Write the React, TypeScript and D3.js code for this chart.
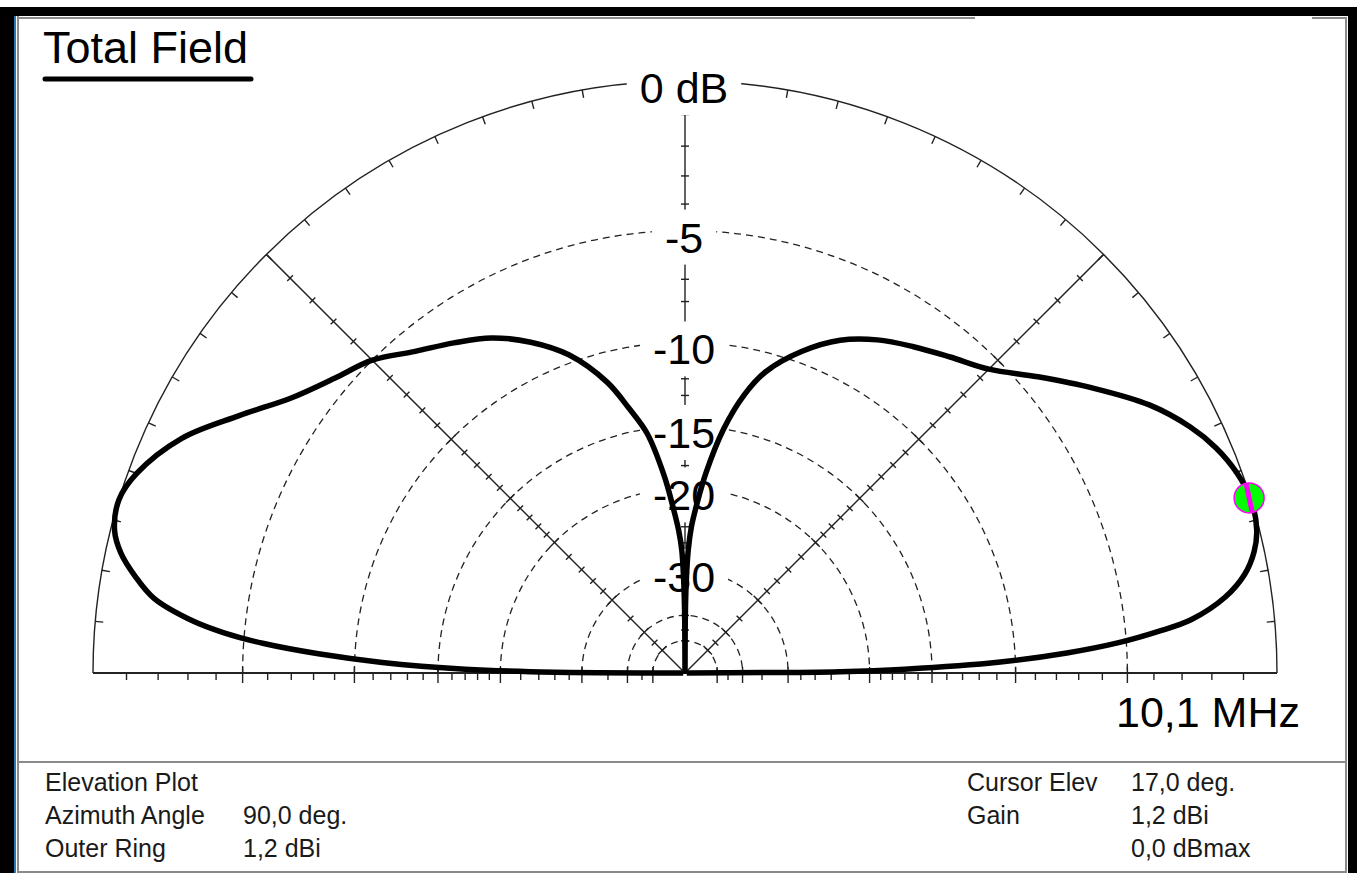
import * as d3 from 'd3'

// elevation pattern, 0 = right horizon, 180 = left horizon
const elevDeg = [
  0, 0.5, 1, 2, 3, 4, 5, 6, 8, 10, 12, 14, 17, 20, 23, 26, 30, 35, 40, 45, 50, 55, 60, 65, 70, 75, 78, 81, 84, 86,
  87.5, 88.5, 89.3, 89.7, 90, 90.3, 90.7, 91.5, 92.5, 94, 96, 99, 102, 105, 110, 115, 120, 125, 130, 135, 140, 145,
  150, 155, 160, 163, 166, 168, 170, 172, 174, 175, 176, 177, 178, 179, 179.5, 180,
]
const gainDb = [
  -100, -23, -17, -10.8, -7.5, -5.3, -3.8, -2.6, -1.4, -0.7, -0.3, -0.08, 0, -0.15, -0.45, -0.9, -1.7, -3.0, -4.3, -5.5,
  -6.2, -6.8, -7.4, -8.2, -9.4, -11.0, -12.6, -15.0, -18.5, -21.5, -24, -27, -33, -42, -100, -42, -33, -27, -24.5, -22,
  -18.8, -15.3, -13.4, -11.6, -9.6, -8.3, -7.3, -6.6, -5.9, -5.0, -4.4, -3.6, -2.4, -1.1, -0.25, 0, -0.12, -0.45, -1.0,
  -1.7, -3.1, -4.2, -5.8, -8.2, -11.5, -17, -23, -100,
]

const ringDb = [-5, -10, -15, -20, -30, -40, -50]
const labelDb = [0, -5, -10, -15, -20, -30]
const labelText = ['0 dB', '-5', '-10', '-15', '-20', '-30']
const tickDb = [
  -1, -2, -3, -4, -6, -7, -8, -9, -11, -12, -13, -14, -16, -17, -18, -19, -22, -24, -26, -28, -35, -45,
]
const arcTickDeg = d3.range(5, 180, 5)
const spokeDeg = [45, 135]

const cursorElev = 17
const cursorDb = 0

const infoLeft = [
  ['Elevation Plot', ''],
  ['Azimuth Angle', '90,0 deg.'],
  ['Outer Ring', '1,2 dBi'],
]
const infoRight = [
  ['Cursor Elev', '17,0 deg.'],
  ['Gain', '1,2 dBi'],
  ['', '0,0 dBmax'],
]

const W = 1357
const H = 873
const cx = 685
const cy = 673
const R = 592
const FONT = '"Liberation Sans", Arial, sans-serif'

// ARRL log scale: radius shrinks by 0.89 every 2 dB
const rScale = d3.scaleLinear().domain([0, 1]).range([0, R])
const arrl = (db: number) => rScale(Math.pow(0.89, -db / 2))
const rad = d3.scaleLinear().domain([0, 180]).range([0, Math.PI])

const pt = (el: number, r: number): [number, number] => [cx + r * Math.cos(rad(el)), cy - r * Math.sin(rad(el))]

const charW: Record<string, number> = { '-': 0.333, ' ': 0.278, d: 0.556, B: 0.667 }
const textWidth = (s: string, size: number) => s.split('').reduce((a, c) => a + (charW[c] ?? 0.556), 0) * size

function halfRing(r: number) {
  const p = d3.path()
  p.arc(cx, cy, r, Math.PI, 2 * Math.PI)
  return p.toString()
}

export default function App() {
  const pattern = d3
    .lineRadial<number>()
    .angle((_, i) => ((90 - elevDeg[i]) * Math.PI) / 180)
    .radius(d => arrl(d))
    .curve(d3.curveCatmullRom.alpha(0.5))

  const spokeTicks = (el: number, dbs: number[], len: number) =>
    dbs.map((db, i) => {
      const r = arrl(db)
      const [x, y] = pt(el, r)
      const nx = -Math.sin(rad(el))
      const ny = -Math.cos(rad(el))
      return <line key={`${el}-${i}`} x1={x - nx * len} y1={y - ny * len} x2={x + nx * len} y2={y + ny * len} />
    })

  const [mx, my] = pt(cursorElev, arrl(cursorDb))
  const labelSize = 43

  return (
    <svg width={W} height={H} style={{ position: 'absolute', left: 0, top: 0 }} fontFamily={FONT}>
      <rect width={W} height={H} fill="#fff" />
      {/* window frame */}
      <rect x={0} y={7} width={W} height={9} fill="#000" />
      <rect x={0} y={7} width={14} height={H - 7} fill="#000" />
      <rect x={14} y={16} width={2} height={H - 16} fill="#2c78b4" />
      <rect x={1348} y={7} width={9} height={H - 7} fill="#000" />
      <g stroke="#8a8a8a" strokeWidth={2}>
        <line x1={17} y1={18} x2={975} y2={18} />
        <line x1={1312} y1={18} x2={1346} y2={18} />
        <line x1={18} y1={16} x2={18} y2={H} />
        <line x1={1346} y1={17} x2={1346} y2={H} />
        <line x1={17} y1={762} x2={1346} y2={762} />
        <line x1={17} y1={872} x2={1346} y2={872} />
      </g>

      {/* dashed rings */}
      <g fill="none" stroke="#222" strokeWidth={1.3} strokeDasharray="7,5">
        {ringDb.map(db => (
          <path key={db} d={halfRing(arrl(db))} />
        ))}
      </g>

      {/* outer ring, baseline, axes */}
      <g stroke="#222" strokeWidth={1.4} fill="none">
        <path d={halfRing(R)} />
        <line x1={cx - R} y1={cy} x2={cx + R} y2={cy} strokeWidth={2.2} />
        <line x1={cx} y1={cy} x2={cx} y2={cy - arrl(-1)} />
        {spokeDeg.map(el => {
          const [x, y] = pt(el, R)
          return <line key={el} x1={cx} y1={cy} x2={x} y2={y} />
        })}
        {arcTickDeg.map(el => {
          const [x1, y1] = pt(el, R)
          const [x2, y2] = pt(el, R - 8)
          return <line key={el} x1={x1} y1={y1} x2={x2} y2={y2} />
        })}
        {/* baseline ticks */}
        {[-1, 1].map(s =>
          tickDb.map(db => (
            <line key={`${s}${db}`} x1={cx + s * arrl(db)} y1={cy} x2={cx + s * arrl(db)} y2={cy + 7} />
          ))
        )}
        {[-1, 1].map(s =>
          ringDb.map(db => (
            <line key={`r${s}${db}`} x1={cx + s * arrl(db)} y1={cy - 6} x2={cx + s * arrl(db)} y2={cy + 10} />
          ))
        )}
        {spokeTicks(90, tickDb.concat(ringDb), 4)}
        {spokeDeg.map(el => spokeTicks(el, tickDb, 4))}
        {spokeDeg.map(el => spokeTicks(el, ringDb, 6))}
      </g>

      {/* ring labels */}
      {labelDb.map((db, i) => {
        const y = cy - arrl(db)
        const w = textWidth(labelText[i], labelSize) + 26
        return (
          <g key={db}>
            <rect x={cx - 1 - w / 2} y={y - 21} width={w} height={55} fill="#fff" />
            <text x={cx - 1} y={y + 22} textAnchor="middle" fontSize={labelSize} fill="#000">
              {labelText[i]}
            </text>
          </g>
        )
      })}

      {/* pattern */}
      <path
        d={pattern(gainDb) ?? ''}
        transform={`translate(${cx},${cy})`}
        fill="none"
        stroke="#000"
        strokeWidth={5.5}
        strokeLinejoin="round"
      />

      {/* cursor marker */}
      <g transform={`translate(${mx - 2},${my - 2})`}>
        <circle r={15} fill="#00ff00" stroke="#ff00ff" strokeWidth={1.5} />
        <line x1={-3} y1={-14} x2={3} y2={14} stroke="#ff00ff" strokeWidth={5} />
      </g>

      {/* title */}
      <text x={43} y={63} fontSize={45} fill="#000">
        Total Field
      </text>
      <line x1={45} y1={79} x2={251} y2={79} stroke="#000" strokeWidth={5} strokeLinecap="round" />

      <text x={1300} y={727} textAnchor="end" fontSize={43} fill="#000">
        10,1 MHz
      </text>

      {/* info panel */}
      <g fontSize={25} fill="#1a1a1a">
        {infoLeft.map((row, i) => (
          <g key={i}>
            <text x={45} y={791 + i * 33}>
              {row[0]}
            </text>
            <text x={243} y={791 + i * 33}>
              {row[1]}
            </text>
          </g>
        ))}
        {infoRight.map((row, i) => (
          <g key={i}>
            <text x={967} y={791 + i * 33}>
              {row[0]}
            </text>
            <text x={1131} y={791 + i * 33}>
              {row[1]}
            </text>
          </g>
        ))}
      </g>
    </svg>
  )
}
